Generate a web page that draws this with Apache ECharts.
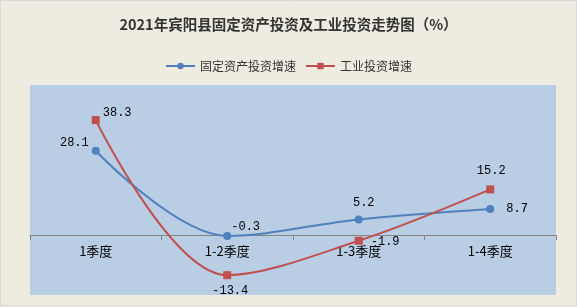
<!DOCTYPE html>
<html><head><meta charset="utf-8">
<script src="https://cdn.jsdelivr.net/npm/echarts@6/dist/echarts.min.js"></script>
<style>html,body{margin:0;padding:0;background:#EEEBE0;}#c{width:577px;height:307px;}</style>
</head><body><div id="c"></div>
<script>
const categories = ['1季度', '1-2季度', '1-3季度', '1-4季度'];
const fixedAssetGrowth = [28.1, -0.3, 5.2, 8.7];
const industrialGrowth = [38.3, -13.4, -1.9, 15.2];
const seriesNames = ['固定资产投资增速', '工业投资增速'];
const titleText = '2021年宾阳县固定资产投资及工业投资走势图（%）';

const lblFont = {fontFamily: 'Liberation Mono', fontSize: 12, color: '#000'};
const blueLabels = [
  {position: 'left', distance: 3, offset: [0, -8]},
  {position: 'right', distance: 2, offset: [-2, -9]},
  {position: 'top', distance: 7, offset: [5, 0]},
  {position: 'right', distance: 12, offset: [0, 0]}
];
const redLabels = [
  {position: 'right', distance: 3, offset: [0, -7]},
  {position: 'bottom', distance: 6, offset: [3, 0]},
  {position: 'right', distance: 8, offset: [0, 1]},
  {position: 'top', distance: 9, offset: [1, 0]}
];
function mk(vals, lbls) {
  return vals.map((v, i) => ({value: v, label: Object.assign({show: true}, lblFont, lbls[i])}));
}
const chart = echarts.init(document.getElementById('c'), null, {renderer: 'canvas'});
chart.setOption({
  backgroundColor: '#EEEBE0',
  animation: false,
  title: {text: titleText, left: 'center', top: 12,
    textStyle: {fontFamily: 'Noto Sans CJK SC', fontSize: 14.5, fontWeight: 'bold', color: '#333'}},
  legend: {top: 55, left: 'center', itemWidth: 29, itemHeight: 8, itemGap: 9,
    textStyle: {fontFamily: 'Noto Sans CJK SC', fontSize: 12, color: '#333'},
    data: seriesNames},
  graphic: [{type: 'rect', shape: {x: 0.5, y: 0.5, width: 576, height: 305},
    style: {fill: 'none', stroke: '#D9D9D9', lineWidth: 1}, silent: true}],
  grid: {left: 30, right: 21, top: 85, bottom: 12, show: true, backgroundColor: '#B9CDE5', borderWidth: 0,
    containLabel: false, outerBoundsMode: 'none'},
  xAxis: {type: 'category', data: categories, boundaryGap: true, position: 'bottom', offset: -60,
    axisLine: {onZero: false, lineStyle: {color: '#868686', width: 1}},
    axisTick: {show: true, length: 5, lineStyle: {color: '#868686'}},
    axisLabel: {margin: 10, fontFamily: 'Noto Sans CJK SC', fontSize: 13, color: '#000'}},
  yAxis: {type: 'value', min: -20, max: 50, show: false, splitLine: {show: false}},
  series: [
    {name: seriesNames[0], type: 'line', smooth: 0.35, data: mk(fixedAssetGrowth, blueLabels),
      symbol: 'circle', symbolSize: 8, lineStyle: {color: '#4F81BD', width: 2},
      itemStyle: {color: '#4F81BD'}},
    {name: seriesNames[1], type: 'line', smooth: 0.35, data: mk(industrialGrowth, redLabels),
      symbol: 'rect', symbolSize: 8, lineStyle: {color: '#C0504D', width: 2},
      itemStyle: {color: '#C0504D'}}
  ]
});
</script></body></html>
